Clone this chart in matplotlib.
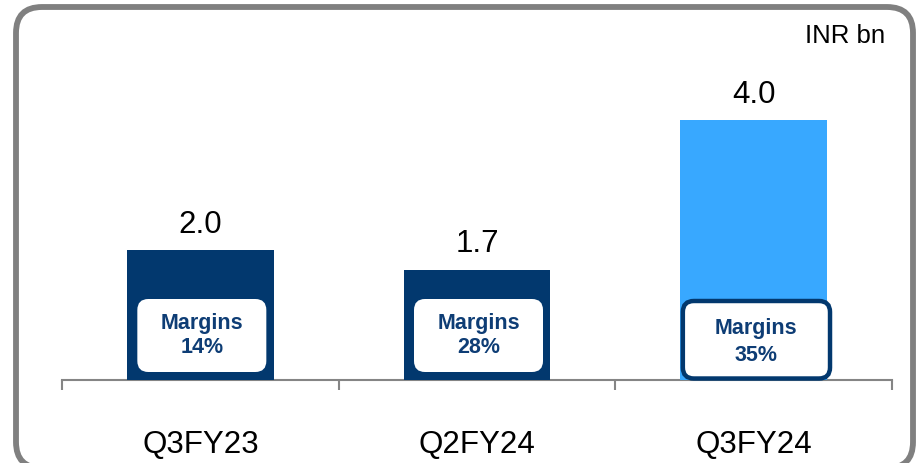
import matplotlib
matplotlib.use("Agg")
import matplotlib.pyplot as plt
from matplotlib.patches import FancyBboxPatch
import numpy as np

plt.rcParams['font.family'] = ['Liberation Sans', 'DejaVu Sans']

categories = ["Q3FY23", "Q2FY24", "Q3FY24"]
values = [2.0, 1.7, 4.0]
value_labels = ["2.0", "1.7", "4.0"]
margins = ["14%", "28%", "35%"]
unit_label = "INR bn"

NAVY = "#02386E"
LIGHT = "#38A8FF"
TEXT_NAVY = "#0E3D75"
GREY = "#858585"
bar_colors = [NAVY, NAVY, LIGHT]
highlight = [False, False, True]

W, H = 916, 464
DPI = 100
fig = plt.figure(figsize=(W / DPI, H / DPI), dpi=DPI)

# rounded frame (drawn behind everything)
frame = FancyBboxPatch((16, -5), 897, 461, boxstyle="round,pad=0,rounding_size=26",
                       transform=None, facecolor="none", edgecolor="#808080",
                       linewidth=4.2, zorder=-5)
fig.patches.append(frame)

# axes placement in pixels
ax_left, ax_right = 62, 892
base_y = 381  # from top
top_y = 11
px_per_unit = 65.0
ax = fig.add_axes([ax_left / W, (H - base_y) / H, (ax_right - ax_left) / W, (base_y - top_y) / H])
ax.set_xlim(-0.5, len(categories) - 0.5)
ax.set_ylim(0, (base_y - top_y) / px_per_unit)
ax.patch.set_alpha(0)

x = np.arange(len(categories))
bar_w = 0.53
ax.bar(x, values, width=bar_w, color=bar_colors, zorder=2)

for xi, v, lab in zip(x, values, value_labels):
    ax.annotate(lab, (xi, v), xytext=(0, 13), textcoords="offset points",
                ha="center", va="baseline", fontsize=22.5, color="black")

# margin boxes
px_x = (ax_right - ax_left) / len(categories)  # pixels per x unit
aspect = px_x / px_per_unit
r = 11 / px_x
for xi, m, hl in zip(x, margins, highlight):
    if hl:
        bw = bar_w
        y0 = 0.0 + 1.5 / px_per_unit
        y1 = (base_y - 302) / px_per_unit
        p = FancyBboxPatch((xi - bw / 2 + 2.5 / px_x, y0), bw - 5 / px_x + 0.02, y1 - y0,
                           boxstyle=f"round,pad=0,rounding_size={r}",
                           mutation_aspect=aspect, facecolor="white",
                           edgecolor=NAVY, linewidth=3.2, zorder=3, clip_on=False)
        ty1, ty2 = (base_y - 329) / px_per_unit, (base_y - 356) / px_per_unit
    else:
        bw = 129 / px_x
        y0 = 8 / px_per_unit
        y1 = 81 / px_per_unit
        p = FancyBboxPatch((xi - bw / 2 + 1.5 / px_x, y0), bw, y1 - y0,
                           boxstyle=f"round,pad=0,rounding_size={r}",
                           mutation_aspect=aspect, facecolor="white",
                           edgecolor="none", zorder=3)
        ty1, ty2 = (base_y - 324) / px_per_unit, (base_y - 348) / px_per_unit
    ax.add_patch(p)
    cx = xi + (1.5 / px_x if not hl else 2 / px_x)
    ax.text(cx, ty1, "Margins", ha="center", va="center", fontsize=15.5,
            fontweight="bold", color=TEXT_NAVY, zorder=4)
    ax.text(cx, ty2, m, ha="center", va="center", fontsize=15.5,
            fontweight="bold", color=TEXT_NAVY, zorder=4)

# axes styling
for s in ["top", "right", "left"]:
    ax.spines[s].set_visible(False)
ax.spines["bottom"].set_color(GREY)
ax.spines["bottom"].set_linewidth(1.5)
ax.spines["bottom"].set_zorder(1)
ax.set_yticks([])
ax.set_xticks(np.arange(len(categories) + 1) - 0.5)
ax.set_xticklabels([])
ax.tick_params(axis="x", which="major", length=7, width=1.5, color=GREY, direction="out")
ax.set_xticks(x, minor=True)
ax.set_xticklabels(categories, minor=True, fontsize=22.5)
ax.tick_params(axis="x", which="minor", length=0, pad=35)

# unit label
fig.text(885 / W, (H - 43) / H, unit_label, ha="right", va="baseline", fontsize=18.5)

fig.savefig("out.png", dpi=DPI)
